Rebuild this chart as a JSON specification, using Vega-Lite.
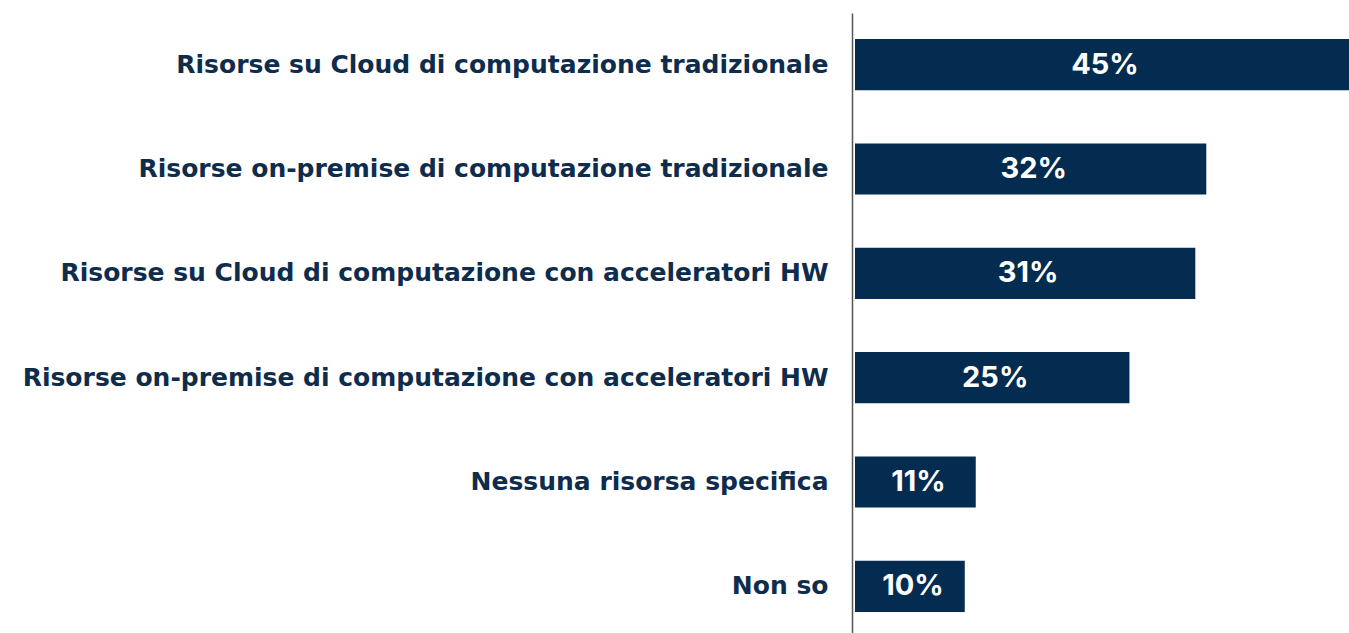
{
  "$schema": "https://vega.github.io/schema/vega-lite/v6.json",
  "width": 494,
  "height": 625,
  "autosize": "none",
  "padding": {"left": 855, "top": 13, "right": 0, "bottom": 0},
  "background": "white",
  "config": {"view": {"stroke": null}},
  "data": {
    "values": [
      {"label": "Risorse su Cloud di computazione tradizionale", "value": 0.45},
      {"label": "Risorse on-premise di computazione tradizionale", "value": 0.32},
      {"label": "Risorse su Cloud di computazione con acceleratori HW", "value": 0.31},
      {"label": "Risorse on-premise di computazione con acceleratori HW", "value": 0.25},
      {"label": "Nessuna risorsa specifica", "value": 0.11},
      {"label": "Non so", "value": 0.10}
    ]
  },
  "encoding": {
    "y": {
      "field": "label", "type": "nominal", "sort": null,
      "scale": {"paddingInner": 0.51, "paddingOuter": 0.25},
      "axis": {
        "title": null, "labelFont": "DejaVu Sans", "labelFontWeight": "bold",
        "labelFontSize": 25, "labelColor": "#0e2c4c", "labelLimit": 900,
        "labelPadding": 24, "offset": 3, "ticks": false,
        "domainColor": "#555555", "domainWidth": 1.5, "grid": false
      }
    }
  },
  "layer": [
    {
      "mark": {"type": "bar", "color": "#042c50"},
      "encoding": {
        "x": {"field": "value", "type": "quantitative", "scale": {"domain": [0, 0.45]}, "axis": null}
      }
    },
    {
      "mark": {"type": "text", "color": "white", "font": "Inter", "fontWeight": "bold", "fontSize": 29, "align": "center", "baseline": "middle", "dx": 3},
      "encoding": {
        "x": {"field": "value", "type": "quantitative", "scale": {"domain": [0, 0.9]}, "axis": null},
        "text": {"field": "value", "format": ".0%"}
      }
    }
  ],
  "resolve": {"scale": {"x": "independent"}}
}
